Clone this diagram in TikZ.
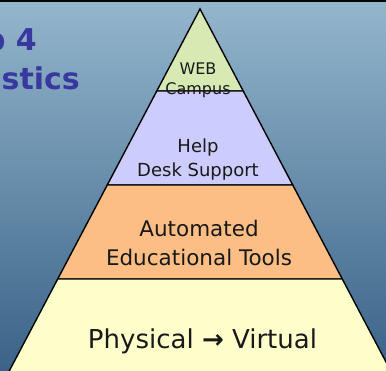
\documentclass[tikz,border=0pt]{standalone}
\usepackage{fontspec}
\setmainfont{DejaVu Sans}
\definecolor{skytop}{RGB}{148,182,205}
\definecolor{skybottom}{RGB}{58,99,135}
\definecolor{titleblue}{RGB}{56,56,158}
\definecolor{webgreen}{RGB}{216,234,180}
\definecolor{helpblue}{RGB}{204,204,255}
\definecolor{toolorange}{RGB}{252,190,132}
\definecolor{baseyellow}{RGB}{255,255,204}
\tikzset{
  layer/.style={draw=black,line width=1.4pt,line join=miter},
  label/.style={inner sep=0pt,align=center,text=black!90},
  heading/.style={inner sep=0pt,text=titleblue,font=\bfseries\fontsize{30}{34}\selectfont}
}
\begin{document}
\begin{tikzpicture}[x=1pt,y=-1pt]
\useasboundingbox (0,0) rectangle (386,371);
\clip (0,0) rectangle (386,371);
% background
\shade[top color=skytop,bottom color=skybottom] (0,0) rectangle (386,371);
\fill[black] (0,0) rectangle (386,2.5);
% title, cut at the left edge
\node[heading,anchor=base east] (steptitle) at (37,51) {p 4};
\node[heading,anchor=base east] (logtitle) at (80,90) {istics};
% pyramid, apex at (200,9)
\foreach \ya/\yb/\col in {9/91/webgreen,91/185/helpblue,185/279/toolorange,279/385/baseyellow}
\filldraw[layer,fill=\col] ({200-(\ya-9)*0.527},\ya) -- ({200+(\ya-9)*0.527},\ya)
  -- ({200+(\yb-9)*0.527},\yb) -- ({200-(\yb-9)*0.527},\yb) -- cycle;
\node[label,font=\fontsize{16}{20}\selectfont] (web) at (198,80) {WEB\\Campus};
\node[label,font=\fontsize{18}{24}\selectfont] (help) at (198,160) {Help\\Desk Support};
\node[label,font=\fontsize{21.5}{29}\selectfont] (tools) at (199,242.5) {Automated\\Educational Tools};
\node[label,font=\fontsize{26}{30}\selectfont] (virtual) at (202.5,341) {Physical \textbf{→} Virtual};
\end{tikzpicture}
\end{document}
